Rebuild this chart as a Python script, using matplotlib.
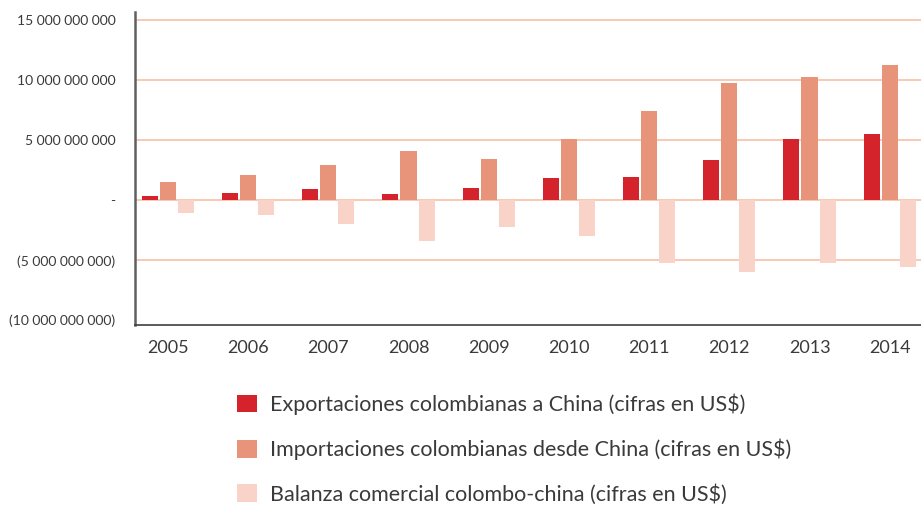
import numpy as np
import matplotlib.pyplot as plt
from matplotlib.ticker import FuncFormatter
from matplotlib.patches import Patch

# === Data (US$) ===
years = ["2005", "2006", "2007", "2008", "2009", "2010", "2011", "2012", "2013", "2014"]
exportaciones = [0.33e9, 0.58e9, 0.92e9, 0.50e9, 1.00e9, 1.83e9, 1.92e9, 3.33e9, 5.08e9, 5.50e9]
importaciones = [1.50e9, 2.08e9, 2.92e9, 4.08e9, 3.42e9, 5.08e9, 7.42e9, 9.75e9, 10.25e9, 11.30e9]
balanza = [-1.10e9, -1.25e9, -2.00e9, -3.40e9, -2.25e9, -3.00e9, -5.25e9, -6.00e9, -5.25e9, -5.60e9]

labels = [
    "Exportaciones colombianas a China (cifras en US$)",
    "Importaciones colombianas desde China (cifras en US$)",
    "Balanza comercial colombo-china (cifras en US$)",
]
colors = ["#d4232a", "#e8947a", "#f9d3c8"]

plt.rcParams['font.family'] = ['Lato', 'DejaVu Sans']
text_color = "#3a3a3a"

fig = plt.figure(figsize=(9.21, 5.07), dpi=100)
ax = fig.add_axes([135 / 921, (507 - 325) / 507, 1 - 135 / 921, (325 - 12) / 507])

x = np.arange(len(years))
w = 0.2
step = 0.225
for i, (vals, c) in enumerate(zip([exportaciones, importaciones, balanza], colors)):
    ax.bar(x + (i - 1) * step, vals, width=w, color=c, zorder=3)

# gridlines
for yv in [15e9, 10e9, 5e9, 0, -5e9]:
    ax.axhline(yv, color="#f9c4ae", lw=1.3, zorder=1)

ax.set_xlim(-0.41, 9.39)
ax.set_ylim(-10.4e9, 15.7e9)
ax.set_yticks([15e9, 10e9, 5e9, 0, -5e9, -10e9])


def fmt(v, pos):
    if abs(v) < 1:
        return "-"
    s = f"{abs(v):,.0f}".replace(",", " ")
    return f"({s})" if v < 0 else s


ax.yaxis.set_major_formatter(FuncFormatter(fmt))
ax.set_xticks(x)
ax.set_xticklabels(years)
ax.tick_params(axis='y', length=0, pad=14, labelsize=10, labelcolor=text_color)
ax.tick_params(axis='x', length=0, pad=11, labelsize=13, labelcolor=text_color)

for side in ["top", "right"]:
    ax.spines[side].set_visible(False)
ax.spines["left"].set_color("#606060")
ax.spines["left"].set_linewidth(1.8)
ax.spines["bottom"].set_color("#404040")
ax.spines["bottom"].set_linewidth(1.2)

# === Legend ===
handles = [Patch(facecolor=c, edgecolor="none") for c in colors]
leg = fig.legend(handles, labels, loc="upper left", bbox_to_anchor=(218 / 921, 1 - 374 / 507),
                 frameon=False, fontsize=15.5, handlelength=0.9, handleheight=0.9,
                 handletextpad=0.6, labelspacing=1.1, labelcolor=text_color)

plt.savefig("out.png", dpi=100)
